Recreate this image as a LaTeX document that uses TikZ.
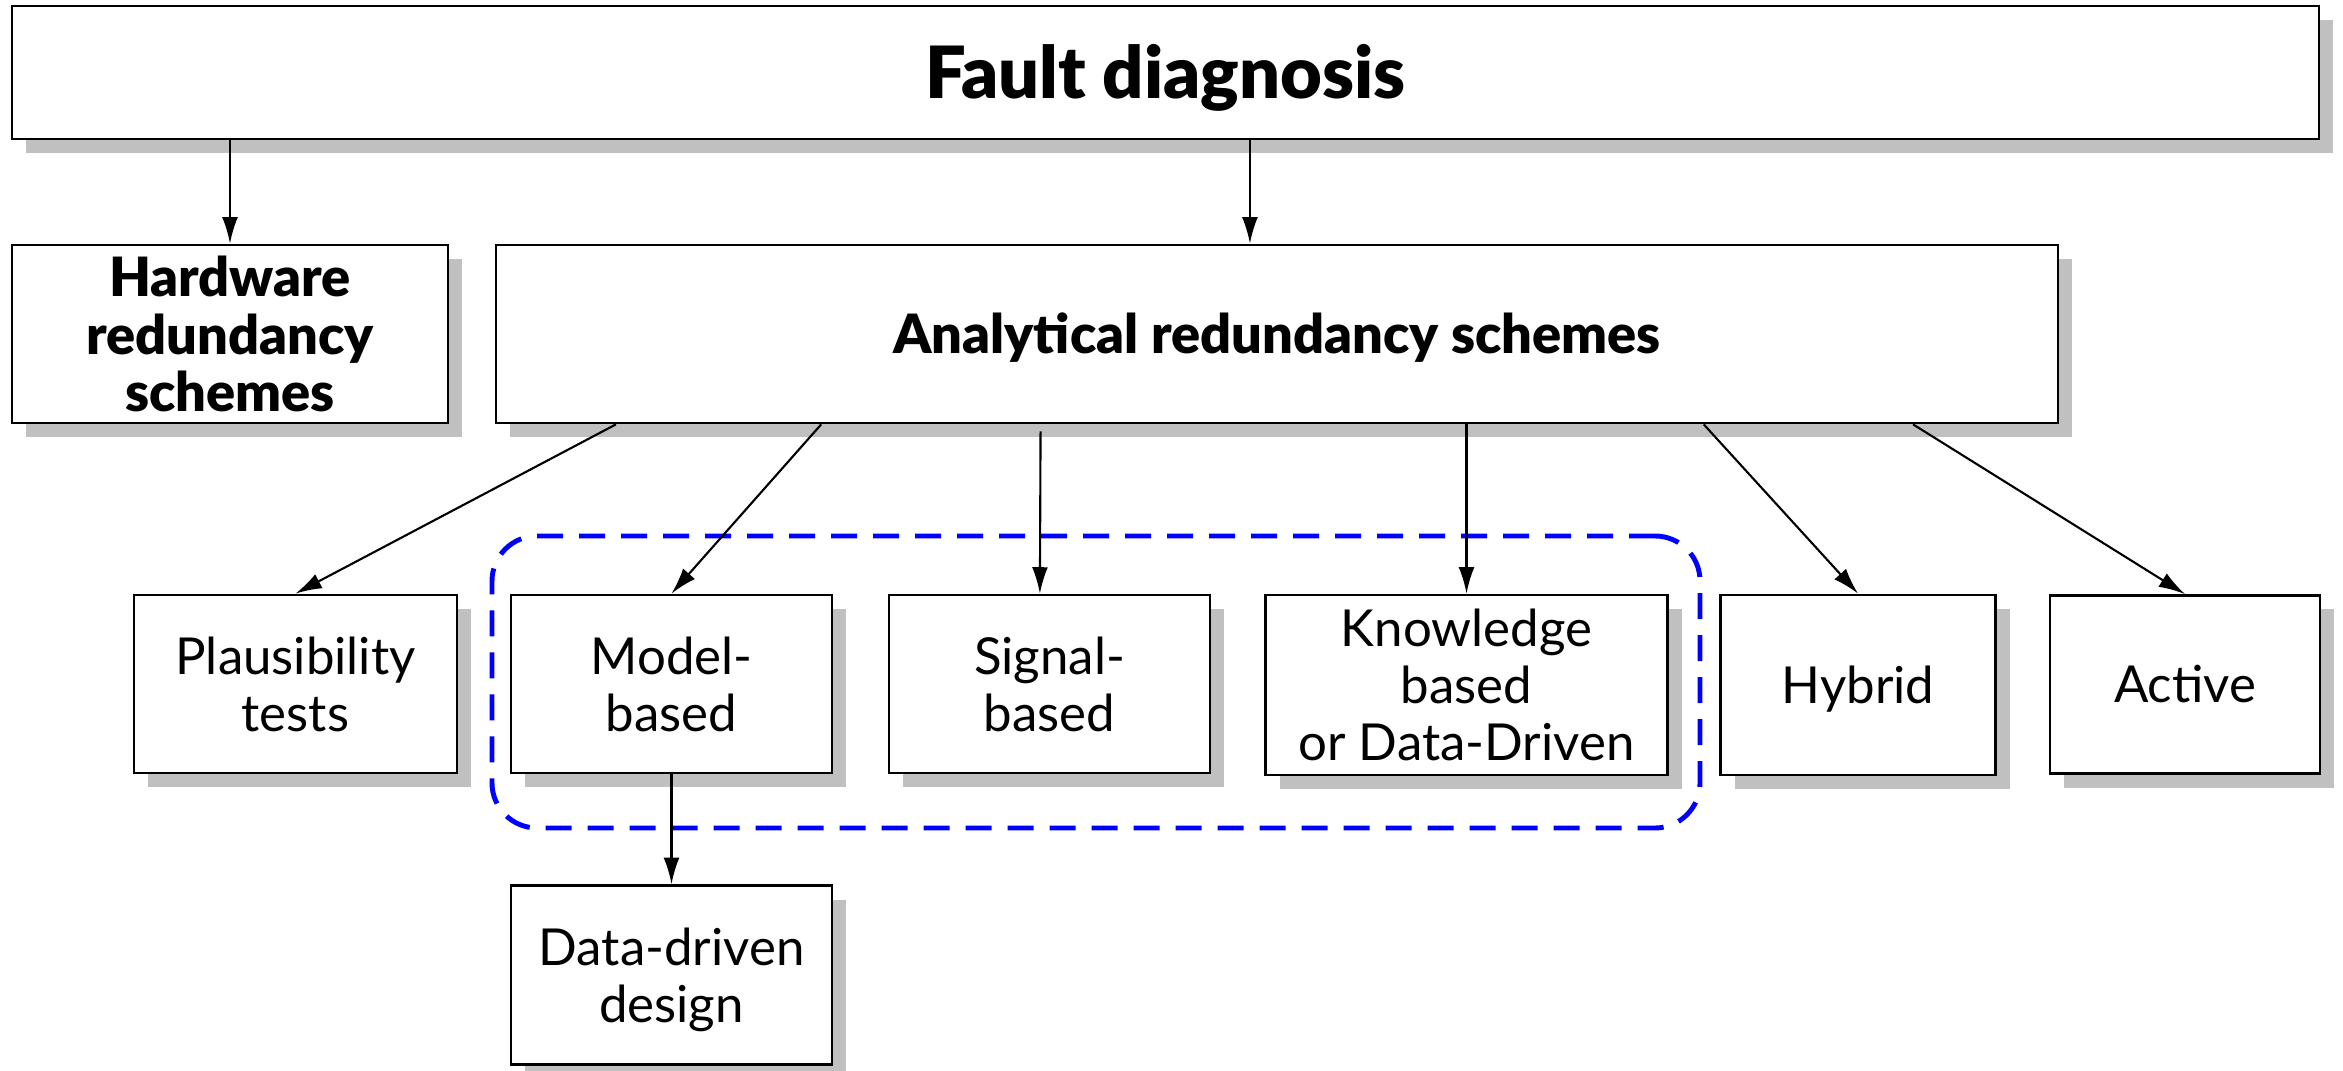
\documentclass[tikz,border=0pt]{standalone}
\usepackage{fontspec}
\setmainfont{Lato}[BoldFont={Lato Black}]
\usetikzlibrary{shadows,calc,arrows.meta}
\definecolor{shadowgray}{RGB}{192,192,192}
\definecolor{groupblue}{RGB}{0,0,255}
\tikzset{
  box/.style={draw=black, line width=0.8pt, fill=white, inner sep=0pt, text=black,
    drop shadow={shadow xshift=1.4mm, shadow yshift=-1.4mm, fill=shadowgray, opacity=1}},
  multi/.style={align=center},
  plainbox/.style={box, font=\fontsize{14.5}{16.2}\selectfont},
  boldbox/.style={box, font=\fontsize{15.4}{16.4}\selectfont\bfseries},
  titlebox/.style={box, font=\fontsize{20.5}{22}\selectfont\bfseries},
  % single-line text: centre the capitals in the box (value = cap height of the font used)
  capline/.style={text height=#1, text depth=0pt},
  conn/.style={draw=black, line width=0.6pt, -{Latex[length=7.5pt,width=4.5pt]}},
  groupframe/.style={draw=groupblue, line width=1.4pt, rounded corners=4.5mm,
    dash pattern=on 2.6mm off 1.6mm, inner sep=0pt}
}
\begin{document}
\begin{tikzpicture}[x=0.1mm,y=-0.1mm]
  \useasboundingbox (0,0) rectangle (2343,1071);

  % grouping frame around the residual-based families
  \node[groupframe, minimum width=120.8mm, minimum height=29.2mm] (grp) at (1096,682) {};

  % top level
  \node[titlebox, capline=14.7pt, minimum width=230.7mm, minimum height=13.3mm] (top) at (1165.5,72.5) {Fault diagnosis};

  % second level
  \node[boldbox, multi, minimum width=43.6mm, minimum height=17.8mm] (hw) at (230,334) {Hardware\\redundancy\\schemes};
  \node[boldbox, capline=11.03pt, minimum width=156.2mm, minimum height=17.8mm] (ana) at (1277,334) {Analytical redundancy schemes};

  % third level
  \node[plainbox, multi, minimum width=32.3mm, minimum height=17.8mm] (pt) at (295.5,684) {Plausibility\\tests};
  \node[plainbox, multi, minimum width=32.1mm, minimum height=17.8mm] (mb) at (671.5,684) {Model-\\based};
  \node[plainbox, multi, minimum width=32.1mm, minimum height=17.8mm] (sb) at (1049.5,684) {Signal-\\based};
  \node[plainbox, multi, minimum width=40.2mm, minimum height=18mm] (kb) at (1466.5,685) {Knowledge\\based\\or Data-Driven};
  \node[plainbox, capline=10.39pt, minimum width=27.5mm, minimum height=18mm] (hy) at (1858,685) {Hybrid};
  \node[plainbox, capline=10.39pt, minimum width=27mm, minimum height=17.8mm] (ac) at (2185,684.5) {Active};

  % fourth level
  \node[plainbox, multi, minimum width=32.1mm, minimum height=17.9mm] (dd) at (671.5,975) {Data-driven\\\raisebox{0pt}[\height][0pt]{design}};

  % attachment point of the vertical link into the analytical box
  \coordinate (anain) at ($(ana.north west)!0.4827!(ana.north east)$);

  % connectors
  \draw[conn] (top.south -| hw.north) -- (hw.north);
  \draw[conn] (top.south -| anain) -- (anain);

  \draw[conn] ($(ana.south west)!0.0775!(ana.south east)$) -- (pt.north);
  \draw[conn] ($(ana.south west)!0.2087!(ana.south east)$) -- (mb.north);
  \draw[conn, shorten <=0.7mm] ($(ana.south west)!0.3489!(ana.south east)$) -- ($(sb.north west)!0.4703!(sb.north east)$);
  \draw[conn] (ana.south -| kb.north) -- (kb.north);
  \draw[conn] ($(ana.south west)!0.7727!(ana.south east)$) -- (hy.north);
  \draw[conn] ($(ana.south west)!0.9065!(ana.south east)$) -- (ac.north);

  \draw[conn] (mb.south) -- (dd.north);
\end{tikzpicture}
\end{document}
